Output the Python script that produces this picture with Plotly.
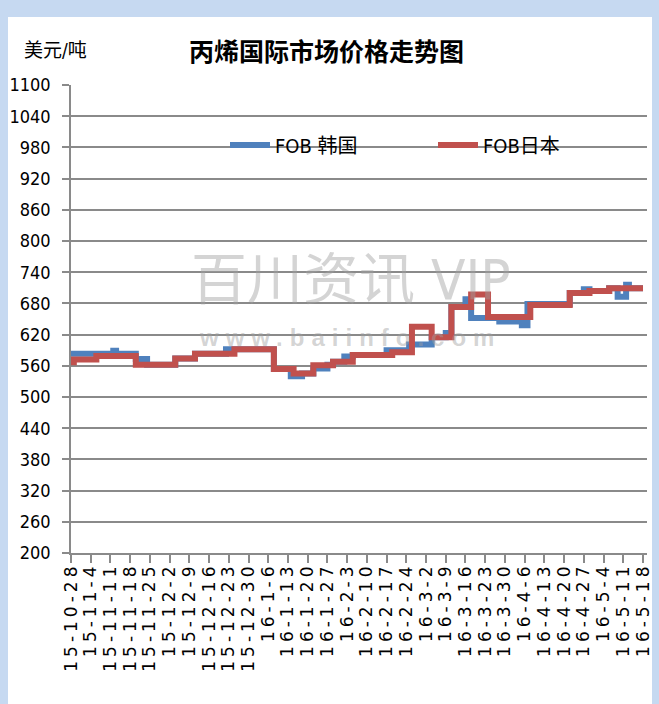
import plotly.graph_objects as go

# ---------------- data ----------------
red_name = "FOB日本"
red_dates = ["2015-10-28", "2015-10-29", "2015-11-06", "2015-11-20", "2015-12-04",
             "2015-12-11", "2015-12-25", "2016-01-08", "2016-01-15", "2016-01-22",
             "2016-01-29", "2016-02-05", "2016-02-19", "2016-02-26", "2016-03-04",
             "2016-03-11", "2016-03-18", "2016-03-24", "2016-04-08", "2016-04-22",
             "2016-04-29", "2016-05-06", "2016-05-18"]
red_vals = [567, 572, 579, 562, 574,
            583, 592, 554, 545, 561,
            568, 581, 586, 635, 615,
            673, 697, 654, 677, 700,
            704, 709, 709]

blue_name = "FOB 韩国"
blue_dates = ["2015-10-28", "2015-11-12", "2015-11-13", "2015-11-20", "2015-11-24",
              "2015-12-04", "2015-12-11", "2015-12-22", "2016-01-08", "2016-01-14",
              "2016-01-18", "2016-01-22", "2016-01-27", "2016-01-29", "2016-02-02",
              "2016-02-05", "2016-02-17", "2016-02-25", "2016-03-04", "2016-03-09",
              "2016-03-11", "2016-03-16", "2016-03-18", "2016-03-28", "2016-04-05",
              "2016-04-07", "2016-04-22", "2016-04-27", "2016-04-29", "2016-05-06",
              "2016-05-09", "2016-05-12", "2016-05-13", "2016-05-18"]
blue_vals = [583, 589, 583, 573, 562,
             574, 583, 592, 554, 540,
             545, 555, 562, 568, 578,
             581, 590, 601, 615, 623,
             673, 688, 652, 645, 638,
             679, 700, 707, 704, 709,
             693, 716, 709, 709]

tick_dates = ["2015-10-28", "2015-11-04", "2015-11-11", "2015-11-18", "2015-11-25",
              "2015-12-02", "2015-12-09", "2015-12-16", "2015-12-23", "2015-12-30",
              "2016-01-06", "2016-01-13", "2016-01-20", "2016-01-27", "2016-02-03",
              "2016-02-10", "2016-02-17", "2016-02-24", "2016-03-02", "2016-03-09",
              "2016-03-16", "2016-03-23", "2016-03-30", "2016-04-06", "2016-04-13",
              "2016-04-20", "2016-04-27", "2016-05-04", "2016-05-11", "2016-05-18"]
tick_labels = ["15-10-28", "15-11-4", "15-11-11", "15-11-18", "15-11-25",
               "15-12-2", "15-12-9", "15-12-16", "15-12-23", "15-12-30",
               "16-1-6", "16-1-13", "16-1-20", "16-1-27", "16-2-3",
               "16-2-10", "16-2-17", "16-2-24", "16-3-2", "16-3-9",
               "16-3-16", "16-3-23", "16-3-30", "16-4-6", "16-4-13",
               "16-4-20", "16-4-27", "16-5-4", "16-5-11", "16-5-18"]

y_ticks = [200, 260, 320, 380, 440, 500, 560, 620, 680, 740, 800, 860, 920, 980, 1040, 1100]

title_text = "丙烯国际市场价格走势图"
unit_text = "美元/吨"
wm_text = "百川资讯 VIP"
wm_url = "www.baiinfo.com"

# ---------------- style ----------------
BLUE = "#4F81BD"
RED = "#C0504D"
GRID = "#8A8A8A"
FRAME = "#C6D9F1"
NARROW = "Liberation Sans Narrow, Arial Narrow, DejaVu Sans Condensed, Noto Sans CJK SC, sans-serif"
CJK = "Noto Sans CJK SC, sans-serif"

fig = go.Figure()
fig.add_trace(go.Scatter(x=blue_dates, y=blue_vals, name=blue_name, mode="lines",
                         line=dict(color=BLUE, width=6, shape="hv"), legend="legend",
                         showlegend=True))
fig.add_trace(go.Scatter(x=red_dates, y=red_vals, name=red_name, mode="lines",
                         line=dict(color=RED, width=6, shape="hv"), legend="legend2",
                         showlegend=True))

L, R_EDGE, T, B_EDGE = 71, 647, 85, 553
W, H = 659, 704
pw, ph = R_EDGE - L, B_EDGE - T

def px_x(p):
    return (p - L) / pw

def px_y(p):
    return (B_EDGE - p) / ph

# white card on light-blue frame
fig.add_shape(type="rect", xref="paper", yref="paper",
              x0=px_x(8), x1=px_x(652), y0=px_y(710), y1=px_y(17),
              fillcolor="white", line=dict(width=0), layer="below")

# watermark
fig.add_annotation(text=wm_text, xref="paper", yref="paper", x=px_x(351), y=px_y(279),
                   showarrow=False, font=dict(family=NARROW, size=56, color="rgba(160,160,160,0.45)"),
                   xanchor="center", yanchor="middle")
fig.add_annotation(text='<span style="letter-spacing:7px">' + wm_url + '</span>',
                   xref="paper", yref="paper", x=px_x(350), y=px_y(337),
                   showarrow=False,
                   font=dict(family="Liberation Sans, Arial, sans-serif", size=24,
                             color="rgba(160,160,160,0.45)", weight="bold"),
                   xanchor="center", yanchor="middle")

# title and unit
fig.add_annotation(text=title_text, xref="paper", yref="paper", x=px_x(326), y=px_y(50),
                   showarrow=False, font=dict(family=CJK, size=25, color="black", weight="bold"),
                   xanchor="center", yanchor="middle")
fig.add_annotation(text=unit_text, xref="paper", yref="paper", x=px_x(55), y=px_y(50),
                   showarrow=False, font=dict(family=NARROW, size=19, color="black"),
                   xanchor="center", yanchor="middle")

xlabels = ['<span style="letter-spacing:4px">' + t + '</span>' for t in tick_labels]

fig.update_layout(
    width=W, height=H,
    margin=dict(l=L, r=W - R_EDGE, t=T, b=H - B_EDGE, pad=0, autoexpand=False),
    paper_bgcolor=FRAME, plot_bgcolor="white",
    showlegend=True,
    font=dict(family=NARROW, color="black"),
    legend=dict(x=px_x(225), y=px_y(145), xanchor="left", yanchor="middle",
                bgcolor="rgba(0,0,0,0)", font=dict(family=NARROW, size=20, color="black"),
                orientation="h", itemwidth=40),
    legend2=dict(x=px_x(433), y=px_y(145), xanchor="left", yanchor="middle",
                 bgcolor="rgba(0,0,0,0)", font=dict(family=NARROW, size=20, color="black"),
                 orientation="h", itemwidth=40),
    xaxis=dict(type="date", range=["2015-10-28", "2016-05-19 10:00"],
               tickmode="array", tickvals=tick_dates, ticktext=xlabels,
               tickangle=-90, ticks="outside", ticklen=8, tickcolor=GRID, tickwidth=1.5,
               showline=True, linecolor=GRID, linewidth=1.5, showgrid=False, zeroline=False,
               automargin=False, ticklabelstandoff=-7,
               tickfont=dict(family="DejaVu Sans, sans-serif", size=17, color="black")),
    yaxis=dict(range=[200, 1100], tickmode="array", tickvals=y_ticks,
               ticks="outside", ticklen=7, tickcolor=GRID, tickwidth=1.5,
               showline=True, linecolor=GRID, linewidth=1.5,
               showgrid=True, gridcolor=GRID, gridwidth=1.5, zeroline=False,
               ticklabelstandoff=8, automargin=False,
               tickfont=dict(family=NARROW, size=18, color="black")),
)

fig.write_html("out.html", config={"displayModeBar": False},
               post_script="document.body.style.margin='0';document.body.style.overflow='hidden';")
